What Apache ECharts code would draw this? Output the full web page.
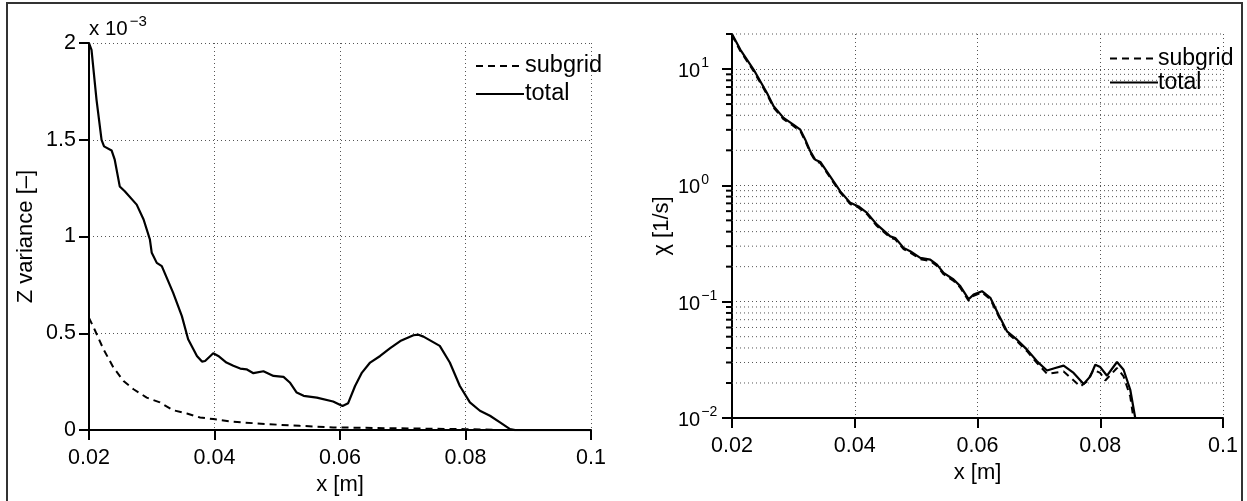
<!DOCTYPE html>
<html>
<head>
<meta charset="utf-8">
<script src="https://cdn.jsdelivr.net/npm/echarts@6/dist/echarts.min.js"></script>
<style>
html,body{margin:0;padding:0;background:#fff;}
#c{width:1247px;height:501px;}
</style>
</head>
<body>
<div id="c"></div>
<script>
// ---- Left panel: Z variance (values in units of 1e-3) ----
const leftTotalX = [0.0200,0.0204,0.0212,0.0220,0.0224,0.0236,0.0241,0.0249,0.0257,0.0276,0.0287,0.0297,0.0300,0.0308,0.0316,0.0334,0.0348,0.0358,0.0372,0.0380,0.0385,0.0398,0.0406,0.0419,0.0430,0.0441,0.0451,0.0462,0.0478,0.0494,0.0510,0.0520,0.0531,0.0542,0.0563,0.0589,0.0604,0.0613,0.0624,0.0635,0.0648,0.0664,0.0680,0.0696,0.0717,0.0725,0.0733,0.0759,0.0775,0.0791,0.0807,0.0823,0.0839,0.0855,0.0871,0.0879,0.0900,0.1000];
const leftTotalY = [2.000,1.964,1.706,1.500,1.466,1.445,1.397,1.259,1.234,1.165,1.088,0.985,0.916,0.864,0.847,0.710,0.589,0.469,0.383,0.354,0.357,0.397,0.383,0.349,0.332,0.318,0.314,0.294,0.304,0.280,0.275,0.246,0.194,0.177,0.168,0.148,0.125,0.139,0.228,0.297,0.349,0.383,0.423,0.460,0.490,0.493,0.483,0.435,0.349,0.228,0.143,0.100,0.074,0.040,0.005,0,0,0];
const leftSubX = [0.0200,0.0210,0.0223,0.0239,0.0255,0.0271,0.0292,0.0313,0.0334,0.0356,0.0377,0.0398,0.0430,0.0483,0.0536,0.0589,0.0696,0.0800,0.0866,0.1000];
const leftSubY = [0.580,0.512,0.418,0.323,0.254,0.211,0.168,0.143,0.103,0.086,0.065,0.057,0.043,0.031,0.022,0.014,0.009,0.005,0,0];

// ---- Right panel: chi [1/s] (log scale) ----
const rightMajorTicks = [0.01, 0.1, 1, 10];
const rightMinorTicks = [0.02,0.03,0.04,0.05,0.06,0.07,0.08,0.09,0.2,0.3,0.4,0.5,0.6,0.7,0.8,0.9,2,3,4,5,6,7,8,9,20];
const rightTotalX = [0.0200,0.02135,0.02352,0.0257,0.02678,0.0284,0.0300,0.03113,0.03194,0.03276,0.03357,0.03439,0.03602,0.03765,0.03928,0.04063,0.0420,0.04362,0.04579,0.0466,0.04796,0.0491,0.05068,0.0523,0.0534,0.05448,0.0561,0.05719,0.05855,0.05936,0.06073,0.06209,0.06344,0.0648,0.06644,0.06807,0.0697,0.07132,0.07267,0.07403,0.07566,0.07729,0.07838,0.07919,0.0800,0.0811,0.08273,0.0838,0.08489,0.0857];
const rightTotalY = [20,14.7,9.9,6.22,4.78,3.80,3.33,3.01,2.47,1.96,1.66,1.59,1.19,0.887,0.707,0.659,0.58,0.459,0.364,0.353,0.29,0.27,0.238,0.23,0.208,0.177,0.155,0.136,0.105,0.115,0.123,0.108,0.0773,0.0556,0.0471,0.0387,0.0307,0.0256,0.0269,0.0282,0.0244,0.0196,0.0228,0.0287,0.0274,0.0231,0.0303,0.026,0.0175,0.0100];
const rightSubX = [0.0200,0.02135,0.02352,0.0257,0.02678,0.0284,0.0300,0.03113,0.03194,0.03276,0.03357,0.03439,0.03602,0.03765,0.03928,0.04063,0.0420,0.04362,0.04579,0.0466,0.04796,0.0491,0.05068,0.0523,0.0534,0.05448,0.0561,0.05719,0.05855,0.05936,0.06073,0.06209,0.06344,0.0648,0.06644,0.06807,0.0697,0.07132,0.07403,0.07675,0.07784,0.07892,0.0800,0.08082,0.08273,0.0838,0.08489,0.0854];
const rightSubY = [19.6,14.3,9.6,6.05,4.65,3.70,3.24,2.93,2.40,1.91,1.62,1.55,1.16,0.865,0.69,0.643,0.565,0.447,0.355,0.344,0.283,0.263,0.232,0.224,0.203,0.172,0.151,0.132,0.102,0.112,0.12,0.105,0.075,0.054,0.0457,0.0375,0.0297,0.0240,0.0251,0.0187,0.0206,0.026,0.0244,0.021,0.0269,0.0228,0.0153,0.0100];

const zip = (xs, ys) => xs.map((x, i) => [x, ys[i]]);
const FONT = "'Liberation Sans', Arial, Helvetica, sans-serif";
const FS = 21.5;
const TICKC = '#000';
const gridLine = { show: true, lineStyle: { color: '#555', width: 1, type: [1, 3] } };
const axLine = { show: true, onZero: false, lineStyle: { color: '#000', width: 2 } };
const axTick = { show: true, inside: false, length: 10, lineStyle: { color: TICKC, width: 2 } };
const lbl = { color: '#000', fontSize: FS, fontFamily: FONT };
const nameStyle = { color: '#000', fontSize: 22, fontFamily: FONT };

const supFmt = v => {
  const e = Math.round(Math.log10(v));
  return '{b|10}{s|' + (e < 0 ? '\u2212' + (-e) : e) + '}';
};

const chart = echarts.init(document.getElementById('c'), null, { renderer: 'canvas', width: 1247, height: 501 });
chart.setOption({
  animation: false,
  backgroundColor: '#fff',
  textStyle: { fontFamily: FONT },
  graphic: [
    { type: 'rect', shape: { x: 7, y: 3, width: 1235, height: 520 }, style: { fill: 'none', stroke: '#333', lineWidth: 2 }, silent: true },
    { type: 'text', x: 89, y: 14, style: { text: '{a|x 10}{e|\u22123}', rich: {
        a: { fontSize: 20.5, fontFamily: FONT, fill: '#000', verticalAlign: 'bottom', lineHeight: 26 },
        e: { fontSize: 15, fontFamily: FONT, fill: '#000', verticalAlign: 'bottom', lineHeight: 26, padding: [0, 0, 11, 2] }
      } }, silent: true }
  ],
  grid: [
    { left: 89, top: 43, width: 502, height: 388, containLabel: false },
    { left: 732, top: 34, width: 491, height: 384, containLabel: false }
  ],
  legend: [
    { orient: 'vertical', left: 470, top: 49, itemWidth: 48, itemHeight: 14, itemGap: 4,
      data: ['subgrid', 'total'], itemStyle: { opacity: 0 },
      textStyle: { color: '#000', fontSize: 23.5, fontFamily: FONT, padding: [0, 0, 0, -4] }, selectedMode: false },
    { orient: 'vertical', left: 1104, top: 42, itemWidth: 48, itemHeight: 14, itemGap: 1,
      data: ['subgrid', 'total'], itemStyle: { opacity: 0 },
      textStyle: { color: '#000', fontSize: 23, fontFamily: FONT, padding: [0, 0, 0, -5] }, selectedMode: false }
  ],
  xAxis: [
    { type: 'value', gridIndex: 0, min: 0.02, max: 0.1, interval: 0.02,
      axisLine: axLine, axisTick: axTick, splitLine: gridLine,
      axisLabel: Object.assign({ margin: 17 }, lbl),
      name: 'x [m]', nameLocation: 'middle', nameGap: 31, nameTextStyle: nameStyle },
    { type: 'value', gridIndex: 1, min: 0.02, max: 0.1, interval: 0.02,
      axisLine: axLine, axisTick: axTick, splitLine: gridLine,
      axisLabel: Object.assign({ margin: 17 }, lbl),
      name: 'x [m]', nameLocation: 'middle', nameGap: 27, nameTextStyle: nameStyle }
  ],
  yAxis: [
    { type: 'value', gridIndex: 0, min: 0, max: 2, interval: 0.5,
      axisLine: axLine, axisTick: axTick, splitLine: gridLine,
      axisLabel: Object.assign({ margin: 13 }, lbl),
      name: 'Z variance [\u2013]', nameLocation: 'middle', nameRotate: 90, nameGap: 52, nameTextStyle: nameStyle },
    { type: 'log', logBase: 10, gridIndex: 1, min: 0.01, max: 20,
      axisLine: axLine,
      axisTick: Object.assign({ customValues: rightMajorTicks }, axTick),
      splitLine: gridLine,
      axisLabel: { customValues: rightMajorTicks, margin: 54, align: 'left', formatter: supFmt, color: '#000', fontFamily: FONT,
        rich: {
          b: { fontSize: 20, fontFamily: FONT, color: '#000', verticalAlign: 'bottom' },
          s: { fontSize: 14, fontFamily: FONT, color: '#000', verticalAlign: 'bottom', padding: [0, 0, 11, 1] }
        } },
      name: '\u03c7 [1/s]', nameLocation: 'middle', nameRotate: 90, nameGap: 59, nameTextStyle: nameStyle }
  ],
  series: [
    { name: 'subgrid', type: 'line', xAxisIndex: 0, yAxisIndex: 0, data: zip(leftSubX, leftSubY),
      symbol: 'none', lineStyle: { color: '#000', width: 2, type: [7, 5] }, itemStyle: { color: '#000' }, z: 3 },
    { name: 'total', type: 'line', xAxisIndex: 0, yAxisIndex: 0, data: zip(leftTotalX, leftTotalY),
      symbol: 'none', lineStyle: { color: '#000', width: 2.2 }, itemStyle: { color: '#000' }, z: 4 },
    { name: 'subgrid', type: 'line', xAxisIndex: 1, yAxisIndex: 1, data: zip(rightSubX, rightSubY),
      symbol: 'none', lineStyle: { color: '#000', width: 2, type: [7, 5] }, itemStyle: { color: '#000' }, z: 3 },
    { name: 'total', type: 'line', xAxisIndex: 1, yAxisIndex: 1, data: zip(rightTotalX, rightTotalY),
      symbol: 'none', lineStyle: { color: '#000', width: 2.2 }, itemStyle: { color: '#000' }, z: 4 },
    { name: 'minor', type: 'custom', xAxisIndex: 1, yAxisIndex: 1, silent: true, clip: false, z: 1,
      data: rightMinorTicks.map(v => [0.02, v]),
      renderItem: (params, api) => {
        const v = api.value(1);
        const p0 = api.coord([0.02, v]);
        const p1 = api.coord([0.1, v]);
        return { type: 'group', children: [
          { type: 'line', shape: { x1: p0[0] - 6, y1: p0[1], x2: p0[0], y2: p0[1] }, style: { stroke: TICKC, lineWidth: 2 } },
          { type: 'line', shape: { x1: p0[0], y1: p0[1], x2: p1[0], y2: p1[1] }, style: { stroke: '#555', lineWidth: 1, lineDash: [1, 3] } }
        ] };
      } }
  ]
});
</script>
</body>
</html>
